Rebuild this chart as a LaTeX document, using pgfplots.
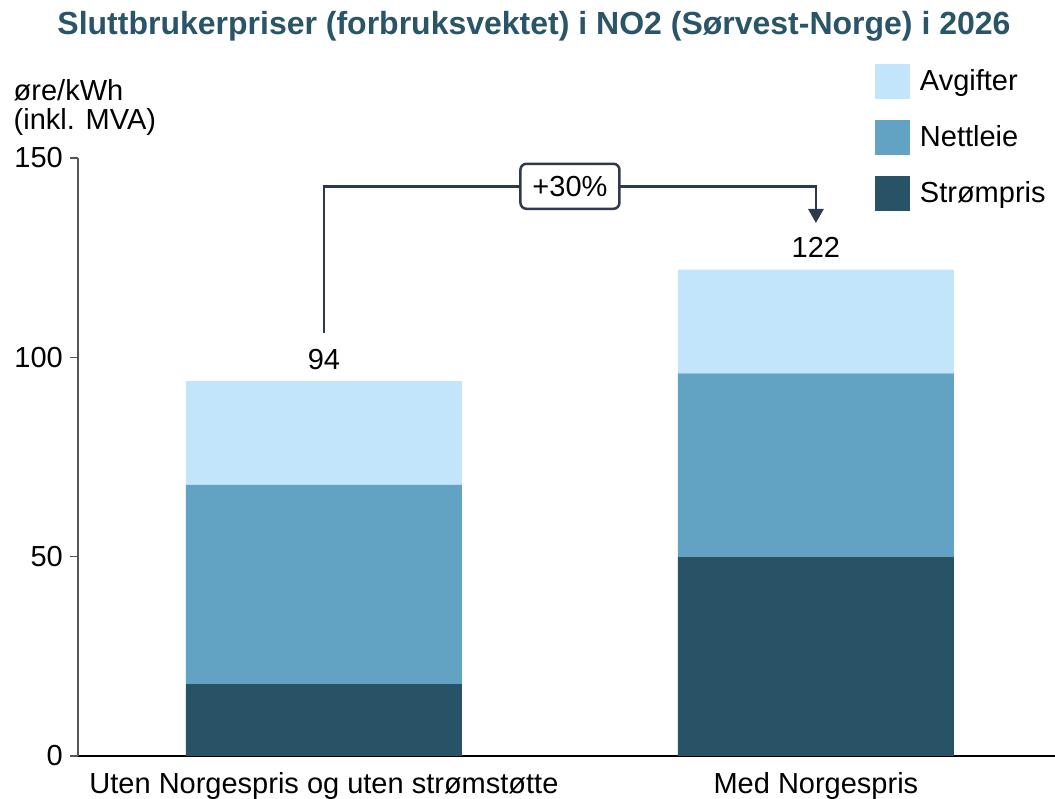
\documentclass[border=0pt]{standalone}
\usepackage{fontspec}
\setmainfont{Liberation Sans}
\usepackage{pgfplots}
\pgfplotsset{compat=1.18}
\usetikzlibrary{arrows.meta}
\definecolor{cStrom}{HTML}{285266}
\definecolor{cNett}{HTML}{62A3C3}
\definecolor{cAvg}{HTML}{C3E5FC}
\definecolor{cTitle}{HTML}{2A5568}
\definecolor{cAnn}{HTML}{2E3A4C}
\definecolor{cAxis}{HTML}{555555}
\begin{document}
\begin{tikzpicture}[font=\fontsize{29}{34}\selectfont]
\useasboundingbox (-78pt,-43pt) rectangle (977pt,756pt);
\begin{axis}[
  at={(0pt,0pt)}, anchor=south west,
  scale only axis, width=977pt, height=598pt,
  xmin=-0.5, xmax=1.486, ymin=0, ymax=150,
  ybar stacked, bar width=276pt,
  axis x line=bottom, axis y line=left,
  x axis line style={black, line width=2pt, -},
  y axis line style={cAxis, line width=1.5pt, -},
  xtick={0,1}, xticklabels={Uten Norgespris og uten strømstøtte, Med Norgespris},
  xtick style={draw=none},
  ytick={0,50,100,150}, yticklabels={0,50,100,150},
  ytick style={cAxis, line width=1.5pt},
  tick align=outside, major tick length=8pt,
  tick label style={font=\fontsize{29}{34}\selectfont, inner sep=0pt},
  xticklabel style={anchor=north, yshift=-8pt},
  yticklabel style={anchor=east, xshift=-7pt},
  clip=false,
  legend style={at={(rel axis cs:0.8157,1.157)}, anchor=north west, draw=none, fill=none,
    inner sep=0pt, outer sep=0pt, row sep=21pt, column sep=10pt,
    nodes={inner sep=0pt, anchor=base west}, font=\fontsize{29}{34}\selectfont},
  legend cell align=left,
  reverse legend,
]
\addplot[fill=cStrom, draw=none, legend image code/.code={\fill[cStrom] (0pt,-9pt) rectangle (35pt,26pt);}] coordinates {(0,18) (1,50)};
\addplot[fill=cNett, draw=none, legend image code/.code={\fill[cNett] (0pt,-9pt) rectangle (35pt,26pt);}] coordinates {(0,50) (1,46)};
\addplot[fill=cAvg, draw=none, legend image code/.code={\fill[cAvg] (0pt,-9pt) rectangle (35pt,26pt);}] coordinates {(0,26) (1,26)};
\legend{Strømpris, Nettleie, Avgifter}
\node[anchor=base, yshift=12pt, inner sep=0pt] at (axis cs:0,94) {94};
\node[anchor=base, yshift=12pt, inner sep=0pt] at (axis cs:1,122) {122};
\coordinate (A) at (axis cs:0,106);
\coordinate (B) at (axis cs:1,142.9);
\coordinate (C) at (axis cs:1,133.7);
\coordinate (M) at (axis cs:0.5,142.9);
\end{axis}
\draw[cAnn, line width=2.7pt, -{Triangle[width=15pt,length=14pt]}] (A) |- (B) -- (C);
\node[draw=cAnn, fill=white, line width=2.5pt, rounded corners=6pt, minimum width=99pt, minimum height=45pt, inner sep=0pt] at (M) {+30\%};
\node[anchor=base, font=\bfseries\fontsize{32}{37}\selectfont, text=cTitle] at (456pt,721pt) {Sluttbrukerpriser (forbruksvektet) i NO2 (Sørvest-Norge) i 2026};
\node[anchor=base west, inner sep=0pt] at (-64.5pt,655pt) {øre/kWh};
\node[anchor=base west, inner sep=0pt] at (-64.5pt,626pt) {(inkl. MVA)};
\end{tikzpicture}
\end{document}
